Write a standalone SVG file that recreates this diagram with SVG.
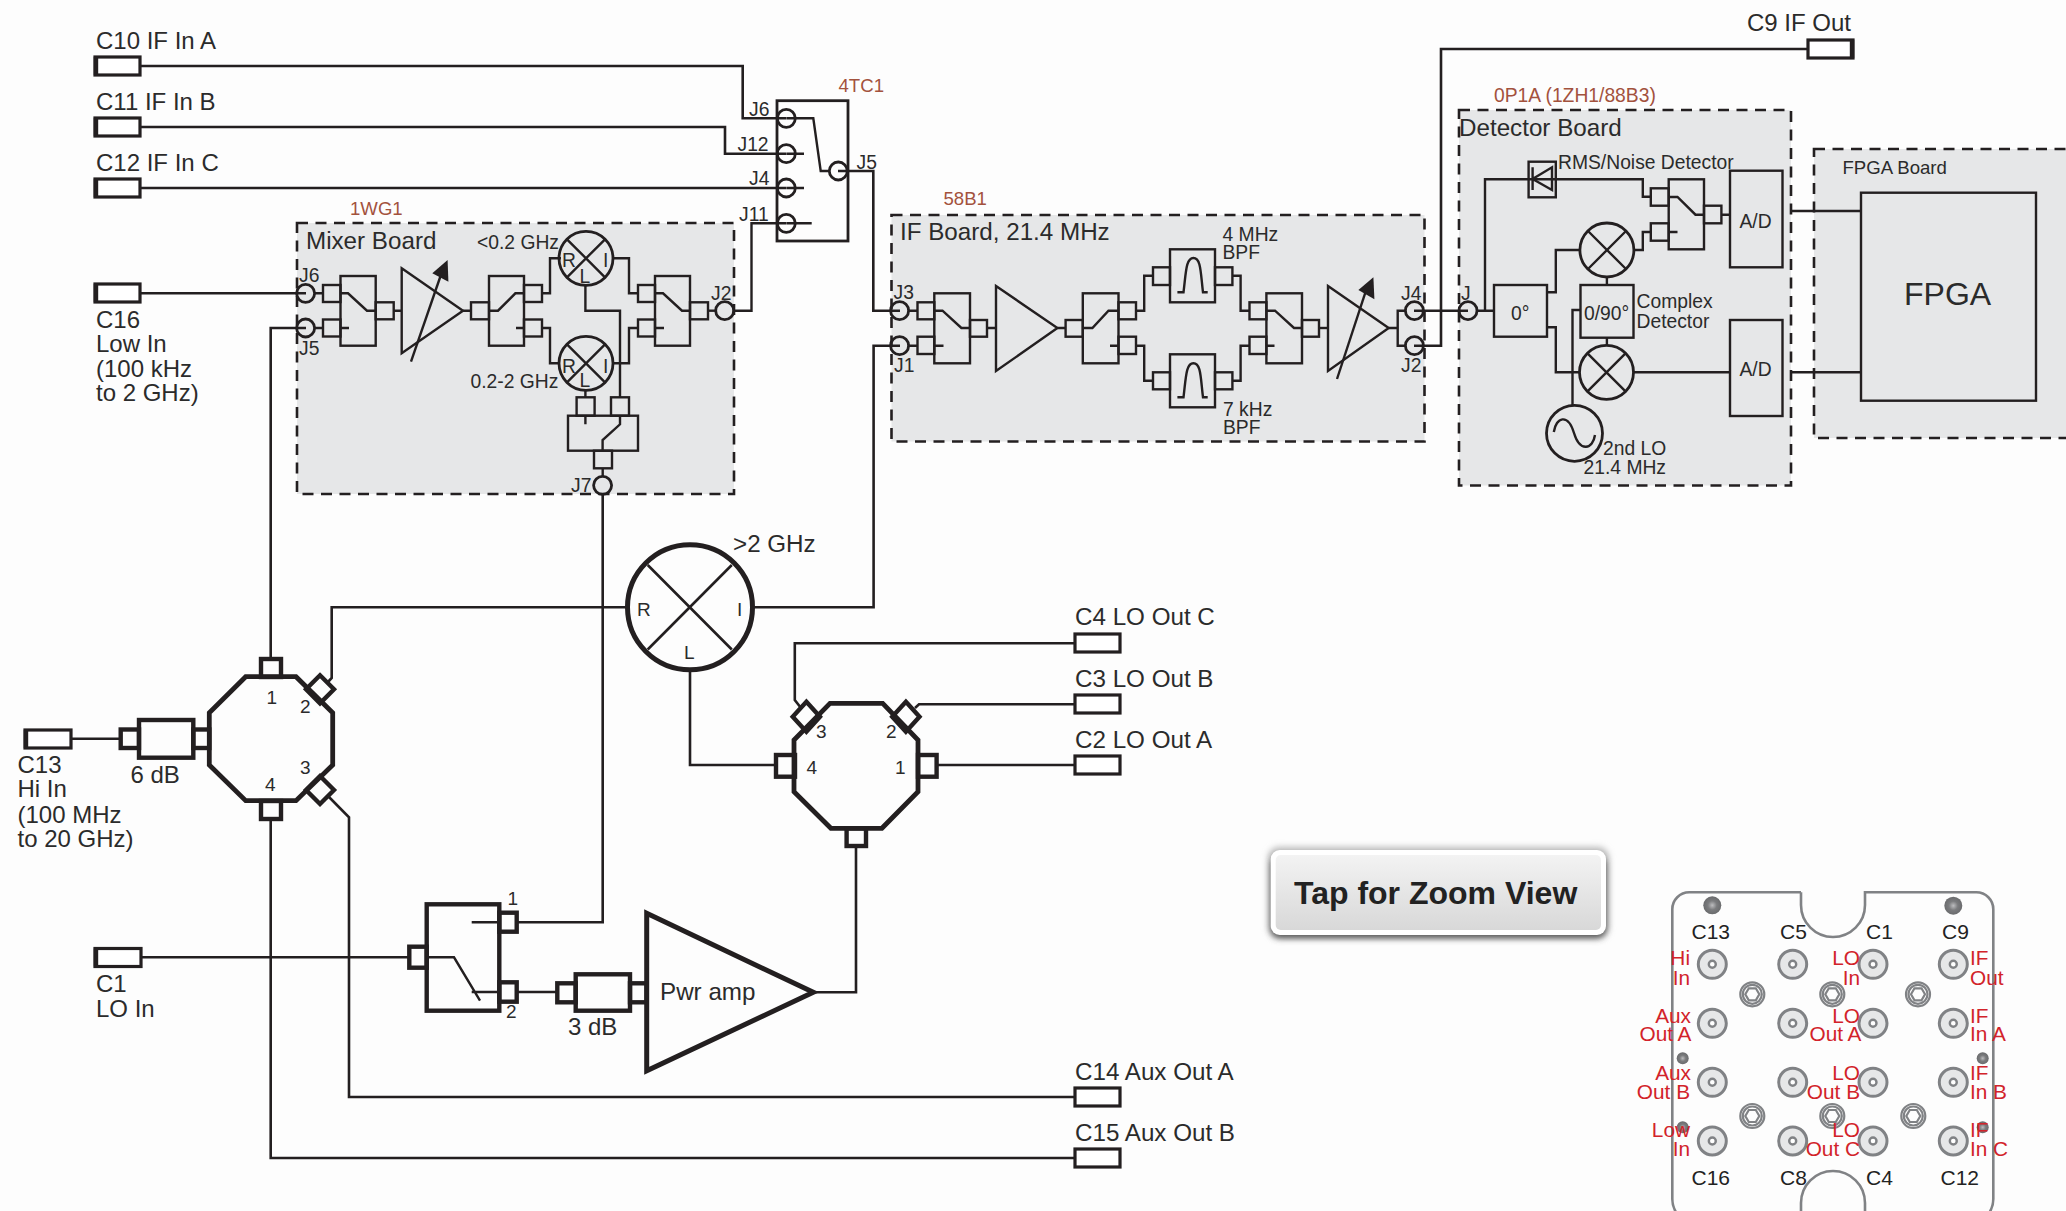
<svg xmlns="http://www.w3.org/2000/svg" width="2066" height="1211" viewBox="0 0 2066 1211">
<style>
text{font-family:"Liberation Sans",Arial,sans-serif;fill:#2b2b2b}
.t24{font-size:24.200px}.t23{font-size:24px}.t19{font-size:19.300px}.t18{font-size:19px}
.br{font-size:18.600px;fill:#a3523d}
.red{font-size:20.800px;fill:#d2232a}
.blk{font-size:21px;fill:#222}
.w{fill:none;stroke:#231f20;stroke-width:2.6}
.n{fill:none;stroke:#231f20;stroke-width:2.4}
.h{fill:none;stroke:#231f20;stroke-width:4.4}
.conn{fill:#fff;stroke:#231f20;stroke-width:3.2}
.board{fill:#e6e7e8;stroke:#231f20;stroke-width:2.6;stroke-dasharray:11 7.5}
.jk{fill:none;stroke:#231f20;stroke-width:2.8}
.arr{fill:#231f20}
.outl{fill:none;stroke:#808285;stroke-width:2.6}
.cn{fill:#e6e7e8;stroke:#808285;stroke-width:3}
.ci{fill:#fff;stroke:#808285;stroke-width:2.4}
.hx{fill:none;stroke:#808285;stroke-width:2.2}
</style>
<defs>
<radialGradient id="scr"><stop offset="0" stop-color="#bdbdbf"/><stop offset="0.5" stop-color="#7b7c7e"/><stop offset="1" stop-color="#6a6b6d"/></radialGradient>
<linearGradient id="btn" x1="0" y1="0" x2="0" y2="1"><stop offset="0" stop-color="#f3f3f3"/><stop offset="1" stop-color="#d8d8d8"/></linearGradient>
<filter id="sh" x="-5%" y="-15%" width="110%" height="140%"><feGaussianBlur stdDeviation="3"/></filter>
<g id="hexbolt"><circle r="12" class="hx"/><circle r="9.5" class="hx"/><path class="hx" d="M-7 0L-3.5 -6H3.5L7 0L3.5 6H-3.5Z"/></g>
<g id="jack"><circle r="14" class="cn"/><circle r="3.5" class="ci"/></g>
</defs>
<rect width="2066" height="1211" fill="#fdfdfd"/>

<g id="boards">
<g id="mixer-board"><rect class="board" x="297" y="223" width="437" height="271"/><text class="br" x="350" y="215">1WG1</text><text class="t24" x="306" y="249">Mixer Board</text></g>
<g id="if-board"><rect class="board" x="891.500" y="215" width="533" height="226.500"/><text class="br" x="943.500" y="205">58B1</text><text class="t24" x="900" y="240">IF Board, 21.4 MHz</text></g>
<g id="detector-board"><rect class="board" x="1459" y="110" width="332" height="375.500"/><text class="br" x="1494" y="101.500" style="font-size:19.300px">0P1A (1ZH1/88B3)</text><text class="t24" x="1459" y="136">Detector Board</text></g>
<g id="fpga-board"><rect class="board" x="1814" y="149" width="270" height="289"/><text class="br" style="fill:#2b2b2b" x="1842.500" y="174">FPGA Board</text></g>
</g>

<g id="connectors">
<path class="w" d="M140 66H742.700V118.300H786"/>
<path class="w" d="M140 127H725V153.700H786"/>
<path class="w" d="M140 188H786"/>
<path class="w" d="M140 293.300H306"/>
<path class="w" d="M270.700 659V328H306"/>
<path class="w" d="M328 682L331.700 678V607.300H627"/>
<path class="w" d="M753 607.300H873.600V345.700H900"/>
<path class="w" d="M690 670V765H776"/>
<path class="w" d="M71 738.700H120"/>
<path class="w" d="M328 796L349 817.300V1097H1075"/>
<path class="w" d="M270.700 819V1158H1075"/>
<path class="w" d="M141.500 957.300H409"/>
<path class="w" d="M516.700 922.300H602.700V494"/>
<path class="w" d="M516.700 992H557"/>
<path class="w" d="M813.300 992.300H856V846"/>
<path class="w" d="M801 708L794.800 700V643.300H1075"/>
<path class="w" d="M915 708L919 704.300H1075"/>
<path class="w" d="M937 765H1075"/>
<path class="w" d="M838 171H873.300V310.700H900"/>
<path class="n" d="M733.700 310.700H751.500V223.300H786"/>
<path class="w" d="M1414 310.700H1468"/>
<path class="w" d="M1414 345.700H1441V49H1808"/>
<path class="w" d="M1791 211H1861M1791 372.300H1861"/>
<path class="n" d="M393.700 310.700H401.700M463 310.700H471"/>
<path class="n" d="M542 293.300H550V258.300H561M542 328H550V363.300H559"/>
<path class="n" d="M613 258.300H629V293.300H638M613 363.300H629V328H638"/>
<path class="n" d="M708 310.700H716"/>
<path class="n" d="M585.400 285V310.700H620V398M585.400 390V398"/>
<path class="n" d="M602.700 468V476"/>
<path class="n" d="M987 328H996M1057.400 328H1065.600"/>
<path class="n" d="M1136 310.700H1144.200V275.700H1153M1136 345.700H1144.200V380.700H1153"/>
<path class="n" d="M1232.400 275.700H1240.600V310.700H1249.500M1232.400 380.700H1240.600V345.700H1249.500"/>
<path class="n" d="M1319 328H1328"/>
<path class="n" d="M1388.700 328H1397.700M1405 310.700H1397.700V345.700H1405"/>
<path class="n" d="M1477 310.700H1494M1485 310.700V179.300H1642.800V196.700H1650.800"/>
<path class="n" d="M1650.800 232H1642.800V250H1634M1580 250H1555.800V292.300H1547M1547 327.300H1555.800V372.300H1580"/>
<path class="n" d="M1721.400 214.700H1730M1634 372.300H1730"/>
<path class="n" d="M1606.900 277V285M1606.900 337.700V345"/>
<path class="n" d="M1572.500 406V310H1580.500"/>
</g>

<g id="c10"><rect class="conn" x="95" y="57" width="45" height="18"/><path class="h" d="M96 57V75"/><text class="t23" x="96" y="48.500">C10 IF In A</text></g>
<g id="c11"><rect class="conn" x="95" y="118" width="45" height="18"/><path class="h" d="M96 118V136"/><text class="t23" x="96" y="110">C11 IF In B</text></g>
<g id="c12"><rect class="conn" x="95" y="179" width="45" height="18"/><path class="h" d="M96 179V197"/><text class="t23" x="96" y="171">C12 IF In C</text></g>
<g id="c16"><rect class="conn" x="95" y="284" width="45" height="18"/><path class="h" d="M96 284V302"/><text class="t23" x="96" y="328">C16</text><text class="t23" x="96" y="352">Low In</text><text class="t23" x="96" y="377">(100 kHz</text><text class="t23" x="96" y="401">to 2 GHz)</text></g>
<g id="c13"><rect class="conn" x="25" y="730" width="46" height="18"/><path class="h" d="M26 730V748"/><text class="t23" x="17.500" y="773">C13</text><text class="t23" x="17.500" y="797">Hi In</text><text class="t23" x="17.500" y="822.500">(100 MHz</text><text class="t23" x="17.500" y="846.500">to 20 GHz)</text></g>
<g id="c1"><rect class="conn" x="95" y="948.500" width="46" height="18"/><path class="h" d="M96 948.500V966.500"/><text class="t23" x="96" y="991.500">C1</text><text class="t23" x="96" y="1016.500">LO In</text></g>
<g id="c4"><rect class="conn" x="1075" y="634" width="45" height="18"/><text class="t24" x="1075" y="625">C4 LO Out C</text></g>
<g id="c3"><rect class="conn" x="1075" y="695" width="45" height="18"/><text class="t24" x="1075" y="686.500">C3 LO Out B</text></g>
<g id="c2"><rect class="conn" x="1075" y="756" width="45" height="18"/><text class="t24" x="1075" y="747.500">C2 LO Out A</text></g>
<g id="c14"><rect class="conn" x="1075" y="1088" width="45" height="18"/><text class="t24" x="1075" y="1080">C14 Aux Out A</text></g>
<g id="c15"><rect class="conn" x="1075" y="1149" width="45" height="18"/><text class="t24" x="1075" y="1141">C15 Aux Out B</text></g>
<g id="c9"><rect class="conn" x="1808" y="40" width="45" height="18"/><path class="h" d="M1852 40V58"/><text class="t23" x="1747" y="31">C9 IF Out</text></g>

<g id="sw-4tc1">
<rect class="n" x="777" y="100.700" width="71" height="140.300" style="stroke-width:2.800"/>
<circle class="jk" cx="786.300" cy="118.300" r="9"/><circle class="jk" cx="786.300" cy="153.700" r="9"/><circle class="jk" cx="786.300" cy="188" r="9"/><circle class="jk" cx="786.300" cy="223.300" r="9"/><circle class="jk" cx="838.300" cy="171" r="9"/>
<path class="n" d="M786.300 118.300H813.300L820.700 171H829M786.300 153.700H804M786.300 188H804M786.300 223.300H811.700"/>
<text class="br" x="838.500" y="92">4TC1</text>
<text class="t19" x="749" y="116">J6</text><text class="t19" x="737.500" y="150.500">J12</text><text class="t19" x="749" y="185">J4</text><text class="t19" x="739" y="220.500">J11</text><text class="t19" x="856.500" y="169">J5</text>
</g>

<g id="mixer-parts">
<g id="mx-j"><circle class="jk" cx="305.600" cy="293.300" r="9"/><circle class="jk" cx="305.600" cy="328" r="9"/><circle class="jk" cx="724.700" cy="310.700" r="9"/><circle class="jk" cx="602.600" cy="485.300" r="9"/>
<text class="t19" x="299" y="281.500">J6</text><text class="t19" x="299" y="355">J5</text><text class="t19" x="711" y="300">J2</text><text class="t19" x="571" y="491.500">J7</text></g>
<g id="mx-sw1"><path class="n" d="M314.600 293.300H323M314.600 328H323"/><rect class="n" x="340.500" y="276" width="35.200" height="69.700"/><rect class="n" x="323" y="285" width="17.500" height="17"/><rect class="n" x="323" y="319.500" width="17.500" height="17"/><rect class="n" x="375.700" y="302.300" width="18" height="17"/><path class="n" d="M340.500 293.300H348L367 310.700H375.700M340.500 328H349"/></g>
<g id="mx-amp"><path class="n" d="M401.700 268.300L463 310.700L401.700 353.300Z"/><path class="n" d="M411 361.700L442.600 270"/><path class="arr" d="M447.600 260L432.300 273.300L448.400 281.700Z"/></g>
<g id="mx-sw2"><rect class="n" x="489" y="276" width="35" height="69.700"/><rect class="n" x="471" y="302.300" width="18" height="17"/><rect class="n" x="524" y="285" width="18" height="17"/><rect class="n" x="524" y="319.500" width="18" height="17"/><path class="n" d="M489 310.700H498L515.400 293.300H524M516 328H524"/></g>
<g id="mx-m1"><circle class="jk" cx="586" cy="258.300" r="27"/><path class="n" d="M567 239.300L605 277.300M605 239.300L567 277.300"/><text class="t19" x="562" y="267">R</text><text class="t19" x="579.500" y="282.500">L</text><text class="t19" x="603" y="267">I</text><text class="t19" x="477" y="249">&lt;0.2 GHz</text></g>
<g id="mx-m2"><circle class="jk" cx="586" cy="363.300" r="27"/><path class="n" d="M567 344.300L605 382.300M605 344.300L567 382.300"/><text class="t19" x="562" y="372.500">R</text><text class="t19" x="579.500" y="386.500">L</text><text class="t19" x="603" y="372.500">I</text><text class="t19" x="470.500" y="388">0.2-2 GHz</text></g>
<g id="mx-sw3"><rect class="n" x="655" y="276" width="35" height="69.700"/><rect class="n" x="638" y="285" width="17" height="17"/><rect class="n" x="638" y="319.500" width="17" height="17"/><rect class="n" x="690" y="302.300" width="18" height="17"/><path class="n" d="M655 293.300H663L682 310.700H690M655 328H664"/></g>
<g id="mx-sw4"><rect class="n" x="576.600" y="397.300" width="18" height="18.400"/><rect class="n" x="611" y="397.300" width="18" height="18.400"/><rect class="n" x="568" y="415.700" width="70" height="35"/><rect class="n" x="594" y="450.700" width="18" height="17.600"/><path class="n" d="M585.400 415.700V424.300M620 415.700V424.300L602.600 440V450.700"/></g>
</g>

<g id="if-parts">
<g id="if-j"><circle class="jk" cx="899.600" cy="310.700" r="9"/><circle class="jk" cx="899.600" cy="345.700" r="9"/><circle class="jk" cx="1414.400" cy="310.700" r="9"/><circle class="jk" cx="1414.400" cy="345.700" r="9"/>
<text class="t19" x="893.500" y="299">J3</text><text class="t19" x="894" y="371.500">J1</text><text class="t19" x="1401" y="300">J4</text><text class="t19" x="1401" y="371.500">J2</text></g>
<g id="if-sw1"><path class="n" d="M908.600 310.700H917.500M908.600 345.700H917.500"/><rect class="n" x="934.300" y="293.300" width="35.700" height="70"/><rect class="n" x="917.500" y="302.300" width="16.800" height="17"/><rect class="n" x="917.500" y="336.700" width="16.800" height="17.300"/><rect class="n" x="970" y="320" width="17" height="16.700"/><path class="n" d="M934.300 310.700H942.500L961.400 328H970M934.300 345.700H943.500"/></g>
<g id="if-amp1"><path class="n" d="M996 286L1057.400 328L996 371Z"/></g>
<g id="if-sw2"><rect class="n" x="1082.800" y="293.300" width="35.700" height="70"/><rect class="n" x="1065.600" y="320" width="17.200" height="16.700"/><rect class="n" x="1118.500" y="302.300" width="17.500" height="17"/><rect class="n" x="1118.500" y="336.700" width="17.500" height="17.300"/><path class="n" d="M1082.800 328H1092.400L1108.500 310.700H1118.500M1110 345.700H1118.500"/></g>
<g id="if-f1"><rect class="n" x="1170" y="249.300" width="45" height="53"/><rect class="n" x="1153" y="267.300" width="17" height="17.700"/><rect class="n" x="1215" y="267.300" width="17.400" height="17.700"/><path class="n" d="M1177.400 292.300H1183.500C1186 272 1186 258 1193.400 258C1201 258 1200.500 272 1203 292.300H1207.700"/><text class="t19" x="1222.500" y="240.500">4 MHz</text><text class="t19" x="1222.500" y="259">BPF</text></g>
<g id="if-f2"><rect class="n" x="1170" y="354.300" width="45" height="53"/><rect class="n" x="1153" y="372.300" width="17" height="17"/><rect class="n" x="1215" y="372.300" width="17.400" height="17"/><path class="n" d="M1177.400 397.300H1183.500C1186 377 1186 363.300 1193.400 363.300C1201 363.300 1200.500 377 1203 397.300H1207.700"/><text class="t19" x="1223" y="416">7 kHz</text><text class="t19" x="1223" y="434">BPF</text></g>
<g id="if-sw3"><rect class="n" x="1266.400" y="293.300" width="35.600" height="70"/><rect class="n" x="1249.500" y="302.300" width="16.900" height="17"/><rect class="n" x="1249.500" y="336.700" width="16.900" height="17.300"/><rect class="n" x="1302" y="320" width="17" height="16.700"/><path class="n" d="M1266.400 310.700H1275L1294 328H1302M1266.400 345.700H1274.500"/></g>
<g id="if-amp2"><path class="n" d="M1328 286L1388.700 328L1328 371Z"/><path class="n" d="M1337 379L1367.300 286.700"/><path class="arr" d="M1373.400 277.300L1358.400 290L1374.400 299.300Z"/></g>
</g>

<g id="det-parts">
<g id="det-j"><circle class="jk" cx="1468" cy="310.700" r="9"/><text class="t19" x="1461" y="300">J</text></g>
<g id="det-diode"><rect class="n" x="1528.600" y="161.700" width="27.200" height="35.600"/><path class="n" d="M1532.600 167.300V190M1552 167.300V190L1532.600 179Z"/><text class="t19" x="1558" y="169">RMS/Noise Detector</text></g>
<g id="det-sw"><rect class="n" x="1668.700" y="179.300" width="35.300" height="70"/><rect class="n" x="1650.800" y="188.300" width="17.900" height="17.400"/><rect class="n" x="1650.800" y="223.300" width="17.900" height="17.400"/><rect class="n" x="1704" y="205.700" width="17.400" height="17.600"/><path class="n" d="M1668.700 197H1677.500L1695.500 214.700H1704M1668.700 232H1677.500"/></g>
<g id="det-ad1"><rect class="n" x="1730" y="170.700" width="52.500" height="96.600"/><text class="t19" x="1739.500" y="227.500">A/D</text></g>
<g id="det-ad2"><rect class="n" x="1730" y="320" width="52.500" height="96"/><text class="t19" x="1739.500" y="376">A/D</text></g>
<g id="det-m1"><circle class="jk" cx="1606.900" cy="250" r="27"/><path class="n" d="M1588 231L1626 269M1626 231L1588 269"/></g>
<g id="det-m2"><circle class="jk" cx="1606.500" cy="372.300" r="27"/><path class="n" d="M1587.500 353.300L1625.500 391.300M1625.500 353.300L1587.500 391.300"/></g>
<g id="det-split"><rect class="n" x="1494" y="285" width="53" height="51.700"/><text class="t19" x="1511" y="320">0°</text></g>
<g id="det-quad"><rect class="n" x="1580.500" y="285" width="53" height="52.700"/><text class="t19" x="1584" y="320">0/90°</text><text class="t19" x="1636.500" y="308">Complex</text><text class="t19" x="1636.500" y="327.500">Detector</text></g>
<g id="det-lo"><circle class="jk" cx="1574.500" cy="433.300" r="28"/><path class="n" d="M1553.800 432C1556 417 1568 413 1574 433C1580 453 1593 449 1595 435"/><text class="t19" x="1603" y="455">2nd LO</text><text class="t19" x="1583.500" y="474">21.4 MHz</text></g>
</g>

<g id="fpga"><rect class="n" x="1861" y="192.700" width="175" height="208"/><text x="1904" y="305" style="font-size:32px">FPGA</text></g>

<g id="atten-6db"><rect class="h" x="120.700" y="729.500" width="18.300" height="18.500"/><rect class="h" x="139" y="720" width="54.300" height="37.700"/><rect class="h" x="193.300" y="729.500" width="16" height="18.500"/><text class="t23" x="130.500" y="782.500">6 dB</text></g>

<g id="splitter-hi">
<path class="h" d="M245.700 676.700H296L332.700 712.700V765L296 800.700H245.700L209.300 765V712.700Z" style="stroke-width:4.800"/>
<rect class="h" x="261" y="659" width="20" height="18"/><rect class="h" x="261" y="801" width="20" height="18"/>
<path class="h" d="M320 675.300L334 689.300L320 703.300L306 689.300Z"/><path class="h" d="M320 776L334 790L320 804L306 790Z"/>
<text class="t18" x="266.500" y="704">1</text><text class="t18" x="300" y="713">2</text><text class="t18" x="300" y="774">3</text><text class="t18" x="265" y="791">4</text>
</g>

<g id="mixer-hi"><circle cx="690" cy="607.300" r="62.500" class="h" style="stroke-width:5"/><path class="w" d="M647.700 565L731.800 649.500M731.800 565L647.700 649.500"/><text class="t18" x="637" y="616">R</text><text class="t18" x="737" y="616">I</text><text class="t18" x="684" y="659">L</text><text class="t24" x="733" y="551.500">&gt;2 GHz</text></g>

<g id="splitter-lo">
<path class="h" d="M830 703.300H882.700L918 740V791.700L881.900 828.300H830.900L794 791.700V740Z" style="stroke-width:4.800"/>
<rect class="h" x="776" y="755" width="19" height="21.700"/><rect class="h" x="918" y="755" width="18.600" height="21.700"/><rect class="h" x="846.600" y="828.300" width="19.400" height="17.700"/>
<path class="h" d="M806.400 701.700L820 716.700L806.400 731.700L792.700 716.700Z"/><path class="h" d="M905.900 701.700L919.500 716.700L905.900 731.700L892.200 716.700Z"/>
<text class="t18" x="816" y="738">3</text><text class="t18" x="886" y="738">2</text><text class="t18" x="806.500" y="774">4</text><text class="t18" x="895" y="774">1</text>
</g>

<g id="sw-lo">
<rect class="h" x="426.700" y="904.300" width="72.600" height="106.400"/><rect class="h" x="409.300" y="946.700" width="17.400" height="21"/><rect class="h" x="499.300" y="912.700" width="17.400" height="19"/><rect class="h" x="499.300" y="982.300" width="17.400" height="19.400"/>
<path class="n" d="M471.700 922.300H499.300M471.700 992H499.300M426.700 957.300H454L480 1000.700"/>
<text class="t18" x="507.500" y="905">1</text><text class="t18" x="506" y="1018">2</text>
</g>
<g id="atten-3db"><rect class="h" x="557.300" y="983.300" width="18.400" height="19"/><rect class="h" x="575.700" y="974.300" width="54.300" height="36.400"/><rect class="h" x="630" y="983.300" width="16.700" height="19"/><text class="t23" x="568" y="1035">3 dB</text></g>
<g id="pwr-amp"><path class="h" d="M646.700 913.300L813.300 992.300L646.700 1070.700Z" style="stroke-width:5"/><text class="t24" x="660" y="1000">Pwr amp</text></g>

<g id="zoom-button">
<rect x="1268" y="847" width="341" height="91" rx="11" fill="#bbb" filter="url(#sh)"/>
<rect x="1271" y="856" width="335" height="82" rx="9" fill="#555" filter="url(#sh)"/>
<rect x="1270.700" y="850" width="335.300" height="85" rx="9" fill="#fff"/>
<rect x="1275.700" y="855" width="325.300" height="75" rx="5" fill="url(#btn)"/>
<text x="1294" y="904" style="font-size:32px;font-weight:700;fill:#222">Tap for Zoom View</text>
</g>

<g id="panel">
<path class="outl" d="M1801 892.300H1689.300A17 17 0 0 0 1672.300 909.300V1199A25 25 0 0 0 1697 1224M1801 892.300V905A32 32 0 0 0 1865 905V892.300H1976.300A17 17 0 0 1 1993.300 909.300V1199A25 25 0 0 1 1968 1224M1801 1225V1203A32 32 0 0 1 1865 1203V1225"/>
<circle cx="1712.300" cy="905.300" r="9" fill="url(#scr)"/><circle cx="1953.300" cy="905.700" r="9" fill="url(#scr)"/>
<circle cx="1682.700" cy="1058.300" r="6" fill="url(#scr)"/><circle cx="1982.700" cy="1058.300" r="6" fill="url(#scr)"/><circle cx="1682.700" cy="1127.300" r="6" fill="url(#scr)"/><circle cx="1982.700" cy="1127.300" r="6" fill="url(#scr)"/>
<use href="#jack" x="1712.300" y="964.300"/><use href="#jack" x="1792.700" y="964.300"/><use href="#jack" x="1873" y="964.300"/><use href="#jack" x="1953.300" y="964.300"/>
<use href="#jack" x="1712.300" y="1023.300"/><use href="#jack" x="1792.700" y="1023.300"/><use href="#jack" x="1873" y="1023.300"/><use href="#jack" x="1953.300" y="1023.300"/>
<use href="#jack" x="1712.300" y="1082.300"/><use href="#jack" x="1792.700" y="1082.300"/><use href="#jack" x="1873" y="1082.300"/><use href="#jack" x="1953.300" y="1082.300"/>
<use href="#jack" x="1712.300" y="1141"/><use href="#jack" x="1792.700" y="1141"/><use href="#jack" x="1873" y="1141"/><use href="#jack" x="1953.300" y="1141"/>
<use href="#hexbolt" x="1752.300" y="994.300"/><use href="#hexbolt" x="1832.300" y="994.300"/><use href="#hexbolt" x="1918" y="994.300"/>
<use href="#hexbolt" x="1752.300" y="1116"/><use href="#hexbolt" x="1832.300" y="1116"/><use href="#hexbolt" x="1913.300" y="1116"/>
<text class="blk" x="1691.500" y="938.500">C13</text><text class="blk" x="1780" y="938.500">C5</text><text class="blk" x="1866" y="938.500">C1</text><text class="blk" x="1942" y="938.500">C9</text>
<text class="blk" x="1691.500" y="1184.500">C16</text><text class="blk" x="1780" y="1184.500">C8</text><text class="blk" x="1866" y="1184.500">C4</text><text class="blk" x="1940.500" y="1184.500">C12</text>
<g text-anchor="end">
<text class="red" x="1690" y="965">Hi</text><text class="red" x="1690" y="984.500">In</text>
<text class="red" x="1691" y="1022.500">Aux</text><text class="red" x="1691.500" y="1040.500">Out A</text>
<text class="red" x="1691" y="1080">Aux</text><text class="red" x="1690" y="1098.500">Out B</text>
<text class="red" x="1690" y="1136.500">Low</text><text class="red" x="1690" y="1156">In</text>
<text class="red" x="1860" y="965">LO</text><text class="red" x="1860" y="984.500">In</text>
<text class="red" x="1860" y="1022.500">LO</text><text class="red" x="1861.500" y="1040.500">Out A</text>
<text class="red" x="1860" y="1080">LO</text><text class="red" x="1860" y="1098.500">Out B</text>
<text class="red" x="1860" y="1136.500">LO</text><text class="red" x="1860" y="1156">Out C</text>
</g>
<text class="red" x="1970" y="965">IF</text><text class="red" x="1970" y="984.500">Out</text>
<text class="red" x="1970" y="1022.500">IF</text><text class="red" x="1970" y="1040.500">In A</text>
<text class="red" x="1970" y="1080">IF</text><text class="red" x="1970" y="1098.500">In B</text>
<text class="red" x="1970" y="1136.500">IF</text><text class="red" x="1970" y="1156">In C</text>
</g>
</svg>
